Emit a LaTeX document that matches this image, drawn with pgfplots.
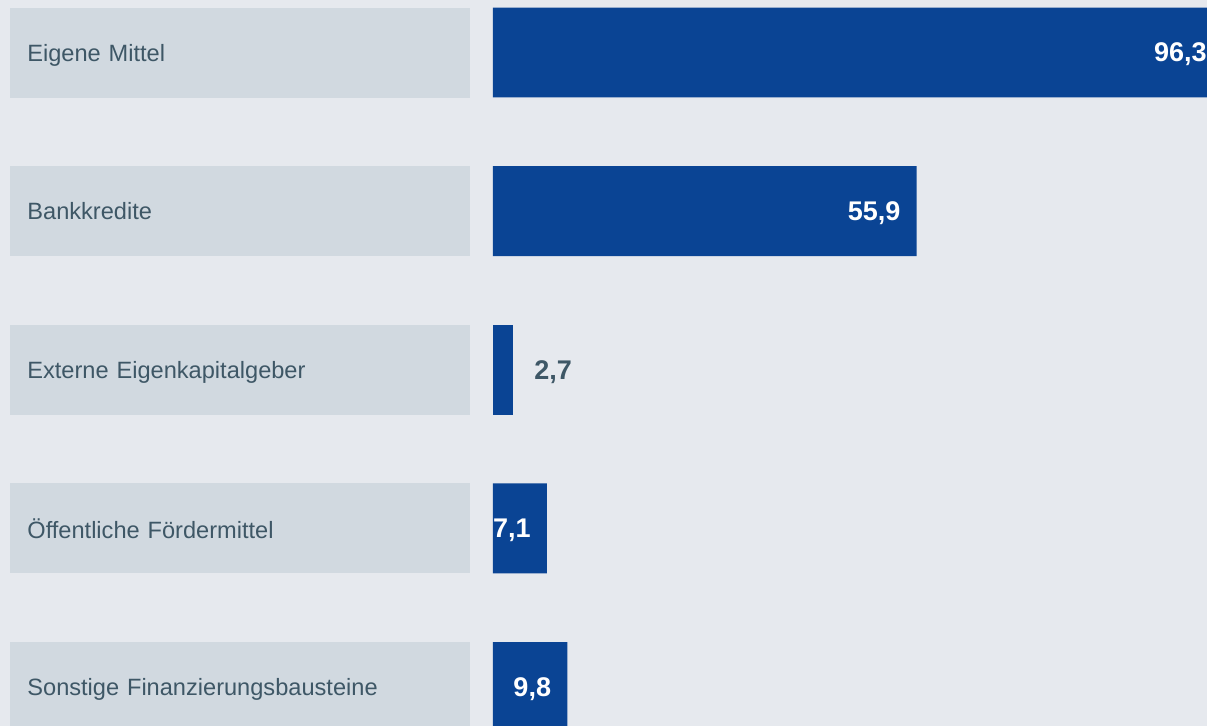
\documentclass[border=0pt]{standalone}
\usepackage{pgfplots}
\pgfplotsset{compat=1.18}
\usepackage{fontspec}
\setmainfont{Liberation Sans}
\definecolor{bgc}{HTML}{E6E9EE}
\definecolor{boxc}{HTML}{D1D9E0}
\definecolor{txtc}{HTML}{3E5766}
\definecolor{barc}{HTML}{0A4494}
\begin{document}
\begin{tikzpicture}
\clip (0,0) rectangle (603.5bp,363bp);
\begin{axis}[
  at={(0,0)}, anchor=south west,
  scale only axis, clip=false,
  width=603.5bp, height=363bp,
  xmin=-65.04, xmax=94.20,
  ymin=-0.331, ymax=4.246,
  y dir=reverse,
  axis background/.style={fill=bgc},
  axis line style={draw=none},
  major tick length=0pt,
  xtick=\empty,
  ytick={0,1,2,3,4},
  yticklabels={Eigene Mittel, Bankkredite, Externe Eigenkapitalgeber, Öffentliche Fördermittel, Sonstige Finanzierungsbausteine},
  yticklabel style={anchor=west, xshift=5bp, fill=boxc, text=txtc,
    font=\fontsize{11.8bp}{14bp}\selectfont, inner xsep=8.5bp, inner ysep=0pt,
    text width=213bp, minimum height=45bp, text depth=0pt, align=left},
  xbar, bar width=0.567, bar shift=0pt,
  /pgf/number format/.cd, use comma, fixed, fixed zerofill, precision=1, assume math mode=true,
]
\addplot[fill=barc, draw=none,
  nodes near coords,
  every node near coord/.append style={anchor=east, xshift=-4.6bp, yshift=-1bp, text=white,
    font=\fontsize{13.5bp}{15bp}\selectfont\bfseries}]
  coordinates {(96.3,0) (55.9,1) (7.1,3) (9.8,4)};
\addplot[fill=barc, draw=none,
  nodes near coords,
  every node near coord/.append style={anchor=west, xshift=10.3bp, yshift=-1bp, inner xsep=0pt, text=txtc,
    font=\fontsize{13.5bp}{15bp}\selectfont\bfseries}]
  coordinates {(2.7,2)};
\end{axis}
\end{tikzpicture}
\end{document}
